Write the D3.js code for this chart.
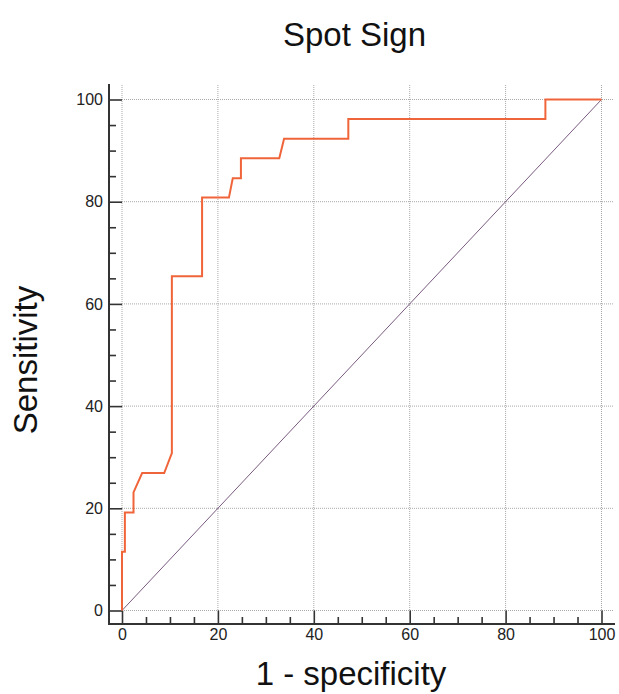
<!DOCTYPE html>
<html><head><meta charset="utf-8">
<script src="https://cdn.jsdelivr.net/npm/d3@7"></script>
<style>body{margin:0;background:#fff;} svg{display:block;}</style>
</head><body>
<script>
// ROC curve points (1 - specificity, sensitivity), in %
const fpr  = [0, 0, 0.6, 0.6, 2.4, 2.4, 4.2, 8.8, 10.4, 10.4, 16.7, 16.7, 22.3, 23.1, 24.8, 24.8, 32.8, 33.8, 47.2, 47.2, 88.3, 88.3, 100];
const sens = [0, 11.5, 11.5, 19.2, 19.2, 23.1, 26.9, 26.9, 30.8, 65.4, 65.4, 80.8, 80.8, 84.6, 84.6, 88.5, 88.5, 92.3, 92.3, 96.2, 96.2, 100, 100];
const refX = [0, 100];
const refY = [0, 100];
const majorTicks = [0, 20, 40, 60, 80, 100];
const minorTicks = [5,10,15,25,30,35,45,50,55,65,70,75,85,90,95];
const title = "Spot Sign";
const xLabel = "1 - specificity";
const yLabel = "Sensitivity";

const W = 619, H = 694;
const font = "'Liberation Sans', Arial, sans-serif";
const svg = d3.select("body").append("svg").attr("width", W).attr("height", H);

const x = d3.scaleLinear().domain([0,100]).range([122, 601.5]);
const y = d3.scaleLinear().domain([0,100]).range([610.5, 99.5]);
const axX = 109, axY = 624, gridTop = 85, gridRight = 613;

// grid
const grid = svg.append("g").attr("stroke", "#a8a8a8").attr("stroke-width", 1).attr("stroke-dasharray", "1,1");
grid.selectAll(".vg").data(majorTicks).join("line")
  .attr("x1", d => x(d)).attr("x2", d => x(d)).attr("y1", gridTop).attr("y2", y(0));
grid.selectAll(".hg").data(majorTicks).join("line")
  .attr("y1", d => y(d)).attr("y2", d => y(d)).attr("x1", x(0)).attr("x2", gridRight);

// axes
const yAxis = svg.append("g").attr("transform", `translate(${axX},0)`)
  .call(d3.axisLeft(y).tickValues(majorTicks).tickSize(-(x(0)-axX)).tickPadding(6).tickFormat(d3.format("d")));
const yMinor = svg.append("g").attr("transform", `translate(${axX},0)`)
  .call(d3.axisLeft(y).tickValues(minorTicks).tickSize(-7).tickFormat(""));
const xAxis = svg.append("g").attr("transform", `translate(0,${axY})`)
  .call(d3.axisBottom(x).tickValues(majorTicks).tickSize(-(axY - y(0))).tickPadding(5).tickFormat(d3.format("d")));
const xMinor = svg.append("g").attr("transform", `translate(0,${axY})`)
  .call(d3.axisBottom(x).tickValues(minorTicks).tickSize(-7).tickFormat(""));
[yAxis, yMinor, xAxis, xMinor].forEach(g => {
  g.select(".domain").remove();
  g.selectAll("line").attr("stroke", "#333").attr("stroke-width", 1.6);
  g.selectAll("text").attr("font-family", font).attr("font-size", 16).attr("fill", "#222");
});
svg.append("line").attr("x1", axX).attr("x2", axX).attr("y1", 84).attr("y2", axY+1)
  .attr("stroke", "#333").attr("stroke-width", 2);
svg.append("line").attr("x1", axX-1).attr("x2", 615).attr("y1", axY).attr("y2", axY)
  .attr("stroke", "#333").attr("stroke-width", 2);

// reference diagonal
svg.append("path").datum(refX.map((v,i)=>[v, refY[i]]))
  .attr("d", d3.line().x(d=>x(d[0])).y(d=>y(d[1])))
  .attr("fill","none").attr("stroke","#7a5a80").attr("stroke-width",1);

// ROC curve
svg.append("path").datum(fpr.map((v,i)=>[v, sens[i]]))
  .attr("d", d3.line().x(d=>x(d[0])).y(d=>y(d[1])))
  .attr("fill","none").attr("stroke","#f0643a").attr("stroke-width",2).attr("stroke-linejoin","miter");

// labels
svg.append("text").attr("x", 354.5).attr("y", 46).attr("text-anchor","middle")
  .attr("font-family", font).attr("font-size", 33).attr("fill","#111").text(title);
svg.append("text").attr("x", 351).attr("y", 685).attr("text-anchor","middle")
  .attr("font-family", font).attr("font-size", 33).attr("fill","#111").text(xLabel);
svg.append("text").attr("transform","translate(37,360) rotate(-90)").attr("text-anchor","middle")
  .attr("font-family", font).attr("font-size", 33).attr("fill","#111").text(yLabel);
</script>
</body></html>
